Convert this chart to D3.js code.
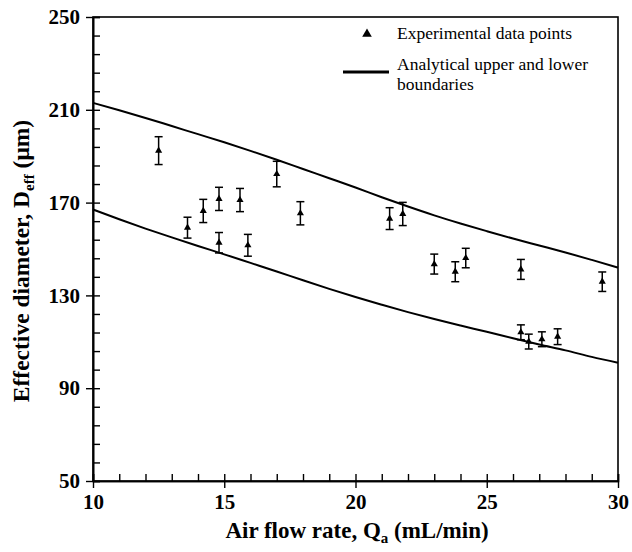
<!DOCTYPE html>
<html>
<head>
<meta charset="utf-8">
<script src="https://cdn.jsdelivr.net/npm/d3@7"></script>
<style>
  body { margin: 0; background: #fff; }
  svg, svg text { font-family: "Liberation Serif", "DejaVu Serif", "Noto Serif", "Times New Roman", serif; }
</style>
</head>
<body>
<div id="chart"></div>
<script>
// experimental points (Qa in mL/min, Deff in um, +/- error)
const flowRate = [12.5, 13.6, 14.2, 14.8, 14.8, 15.6, 15.9, 17.0, 17.9, 21.3,
                  21.8, 23.0, 23.8, 24.2, 26.3, 26.3, 26.6, 27.1, 27.7, 29.4];
const diameter = [192.4, 159.2, 166.4, 171.6, 152.7, 171.1, 151.6, 182.3, 165.4, 163.1,
                  165.1, 143.5, 140.2, 146.1, 141.2, 114.1, 110.1, 111.1, 112.2, 135.9];
const errorBar = [6.0, 4.5, 5.0, 5.0, 4.4, 5.0, 4.7, 5.5, 5.0, 4.7,
                  5.0, 4.3, 4.3, 4.2, 4.3, 3.2, 3.2, 3.2, 3.4, 4.2];

// analytical boundaries
const curveFlow = [10, 11, 12, 13, 14, 15, 16, 17, 18, 19, 20,
                   21, 22, 23, 24, 25, 26, 27, 28, 29, 30];
const upperBound = [213, 209.8, 206.5, 203, 199.5, 196, 192.3, 188.5, 184.5, 180.5, 176.5,
                    172.3, 168.3, 164.5, 161, 157.7, 154.5, 151.5, 148.5, 145.3, 142];
const lowerBound = [167, 162.8, 158.8, 155, 151.3, 147.7, 144, 140.3, 136.5, 132.8, 129.3,
                    126, 122.8, 119.8, 117, 114.3, 111.5, 108.8, 106.3, 103.5, 101];

const xMajor = [10, 15, 20, 25, 30];
const xMinor = d3.range(10, 31, 1);
const yMajor = [50, 90, 130, 170, 210, 250];
const yMinor = d3.range(50, 251, 8);

const serif = "'Liberation Serif', 'DejaVu Serif', 'Noto Serif', 'Times New Roman', serif";
const width = 632, height = 552;
const svg = d3.select("#chart").append("svg")
    .attr("width", width)
    .attr("height", height)
    .attr("font-family", serif);

const x = d3.scaleLinear().domain([10, 30]).range([93, 618]);
const y = d3.scaleLinear().domain([50, 250]).range([481, 17]);

// frame
svg.append("rect")
    .attr("x", x(10)).attr("y", y(250))
    .attr("width", x(30) - x(10)).attr("height", y(50) - y(250))
    .attr("fill", "none").attr("stroke", "#000").attr("stroke-width", 1.6);

// bottom axis: outward majors with labels, inward minors
const xOut = svg.append("g")
    .attr("transform", `translate(0,${y(50)})`)
    .call(d3.axisBottom(x).tickValues(xMajor).tickSizeInner(7).tickSizeOuter(0).tickPadding(6));
const xIn = svg.append("g")
    .attr("transform", `translate(0,${y(50)})`)
    .call(d3.axisBottom(x).tickValues(xMinor).tickSize(-7).tickFormat(""));

const yOut = svg.append("g")
    .attr("transform", `translate(${x(10)},0)`)
    .call(d3.axisLeft(y).tickValues(yMajor).tickSizeInner(7).tickSizeOuter(0).tickPadding(6));
const yIn = svg.append("g")
    .attr("transform", `translate(${x(10)},0)`)
    .call(d3.axisLeft(y).tickValues(yMinor).tickSize(-7).tickFormat(""));

[xOut, xIn, yOut, yIn].forEach(g => {
    g.attr("font-family", serif);
    g.select(".domain").attr("stroke", "#000").attr("stroke-width", 1.6);
    g.selectAll(".tick line").attr("stroke", "#000").attr("stroke-width", 1.4);
});
[xOut, yOut].forEach(g => {
    g.attr("font-size", 21).attr("font-weight", "bold");
    g.selectAll(".tick text").attr("fill", "#000");
});

// axis titles
const xTitle = svg.append("text")
    .attr("x", 357).attr("y", 538)
    .attr("text-anchor", "middle")
    .attr("font-size", 23).attr("font-weight", "bold");
xTitle.append("tspan").text("Air flow rate, Q");
xTitle.append("tspan").attr("font-size", 15).attr("dy", 5).text("a");
xTitle.append("tspan").attr("dy", -5).text(" (mL/min)");

const yTitle = svg.append("text")
    .attr("transform", "translate(29,261) rotate(-90)")
    .attr("text-anchor", "middle")
    .attr("font-size", 23.5).attr("font-weight", "bold");
yTitle.append("tspan").text("Effective diameter, D");
yTitle.append("tspan").attr("font-size", 15).attr("dy", 5).text("eff");
yTitle.append("tspan").attr("dy", -5).text(" (\u03bcm)");

// boundary curves
const line = d3.line().curve(d3.curveMonotoneX);
[upperBound, lowerBound].forEach(vals => {
    svg.append("path")
        .attr("d", line(curveFlow.map((q, i) => [x(q), y(vals[i])])))
        .attr("fill", "none").attr("stroke", "#000").attr("stroke-width", 2);
});

// experimental points with error bars
const points = flowRate.map((q, i) => ({ q, d: diameter[i], e: errorBar[i] }));
const pg = svg.append("g").selectAll("g").data(points).join("g");
pg.append("line")
    .attr("x1", d => x(d.q)).attr("x2", d => x(d.q))
    .attr("y1", d => y(d.d - d.e)).attr("y2", d => y(d.d + d.e))
    .attr("stroke", "#000").attr("stroke-width", 1.5);
pg.selectAll("line.cap")
    .data(d => [d.d - d.e, d.d + d.e].map(v => ({ q: d.q, v })))
    .join("line").attr("class", "cap")
    .attr("x1", d => x(d.q) - 4).attr("x2", d => x(d.q) + 4)
    .attr("y1", d => y(d.v)).attr("y2", d => y(d.v))
    .attr("stroke", "#000").attr("stroke-width", 1.5);
const tri = d3.symbol().type(d3.symbolTriangle).size(22);
pg.append("path")
    .attr("d", tri)
    .attr("transform", d => `translate(${x(d.q)},${y(d.d)})`)
    .attr("fill", "#000");

// legend
const legend = svg.append("g").attr("font-size", 17.5);
legend.append("path")
    .attr("d", d3.symbol().type(d3.symbolTriangle).size(40))
    .attr("transform", "translate(367,34)")
    .attr("fill", "#000");
legend.append("text").attr("x", 397).attr("y", 39).text("Experimental data points");
legend.append("line")
    .attr("x1", 343).attr("x2", 389).attr("y1", 72).attr("y2", 72)
    .attr("stroke", "#000").attr("stroke-width", 3);
legend.append("text").attr("x", 397).attr("y", 70).text("Analytical upper and lower");
legend.append("text").attr("x", 397).attr("y", 90).text("boundaries");
</script>
</body>
</html>
